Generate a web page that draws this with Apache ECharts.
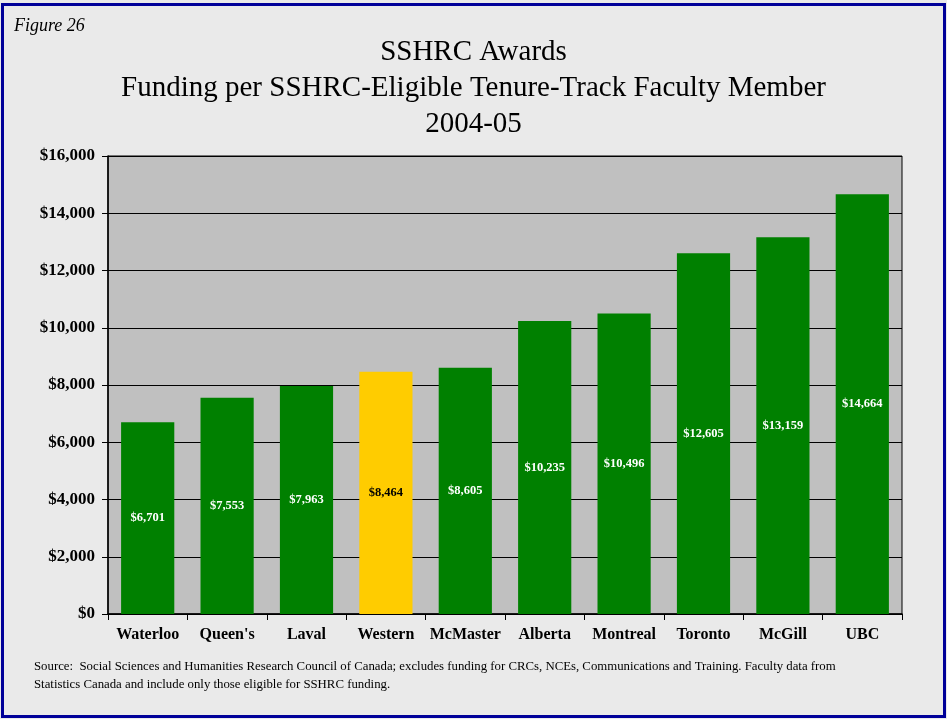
<!DOCTYPE html>
<html style="height: 100%">
<head>
    <meta charset="utf-8">
</head>
<body style="height: 100%; margin: 0; background: #eaeaea">
<div id="container" style="width: 947px; height: 719px"></div>
<script type="text/javascript" src="https://cdn.jsdelivr.net/npm/echarts@6.0.0/dist/echarts.min.js"></script>
<script type="text/javascript">
  const universities = ['Waterloo', "Queen's", 'Laval', 'Western', 'McMaster', 'Alberta', 'Montreal', 'Toronto', 'McGill', 'UBC'];
  const funding = [6701, 7553, 7963, 8464, 8605, 10235, 10496, 12605, 13159, 14664];
  const highlight = 'Western';

  const serif = '"Liberation Serif", "Times New Roman", serif';
  const money = v => '$' + v.toLocaleString('en-US');

  var myChart = echarts.init(document.getElementById('container'));
  var option = {
    backgroundColor: '#eaeaea',
    animation: false,
    graphic: [
      {
        type: 'rect',
        shape: { x: 2.5, y: 4.5, width: 942, height: 712 },
        style: { fill: 'none', stroke: '#000099', lineWidth: 3 }
      },
      {
        type: 'text', left: 14, top: 17,
        style: { text: 'Figure 26', font: 'italic 18px ' + serif, fill: '#000' }
      },
      {
        type: 'text', left: 34, top: 658,
        style: {
          text: 'Source:  Social Sciences and Humanities Research Council of Canada; excludes funding for CRCs, NCEs, Communications and Training. Faculty data from\nStatistics Canada and include only those eligible for SSHRC funding.',
          font: '12.8px ' + serif, fill: '#000', lineHeight: 18
        }
      }
    ],
    title: {
      text: 'SSHRC Awards\nFunding per SSHRC-Eligible Tenure-Track Faculty Member\n2004-05',
      left: 'center',
      top: 29,
      textStyle: {
        fontFamily: serif, fontWeight: 'normal', fontSize: 29, color: '#000', lineHeight: 36
      }
    },
    grid: {
      left: 108, right: 45, top: 156, bottom: 105,
      show: true, backgroundColor: '#c0c0c0', borderColor: '#000', borderWidth: 1
    },
    xAxis: {
      type: 'category',
      data: universities,
      axisLine: { lineStyle: { color: '#000', width: 1.5 } },
      axisTick: { show: true, interval: 0, length: 6, lineStyle: { color: '#000' } },
      axisLabel: {
        interval: 0, margin: 13, color: '#000', fontFamily: serif, fontWeight: 'bold', fontSize: 16
      }
    },
    yAxis: {
      type: 'value',
      min: 0, max: 16000, interval: 2000,
      axisLine: { show: true, lineStyle: { color: '#000', width: 1.5 } },
      axisTick: { show: true, length: 6, lineStyle: { color: '#000' } },
      splitLine: { lineStyle: { color: '#000', width: 1 } },
      axisLabel: {
        margin: 13, color: '#000', fontFamily: serif, fontWeight: 'bold', fontSize: 17,
        formatter: money
      }
    },
    series: [{
      type: 'bar',
      barWidth: '67%',
      data: universities.map((u, i) => ({
        value: funding[i],
        itemStyle: { color: u === highlight ? '#ffcc00' : '#008000' },
        label: { color: u === highlight ? '#000' : '#fff' }
      })),
      label: {
        show: true,
        position: 'inside',
        fontFamily: serif, fontWeight: 'bold', fontSize: 12.5,
        formatter: p => money(p.value)
      }
    }]
  };
  myChart.setOption(option);
</script>
</body>
</html>
